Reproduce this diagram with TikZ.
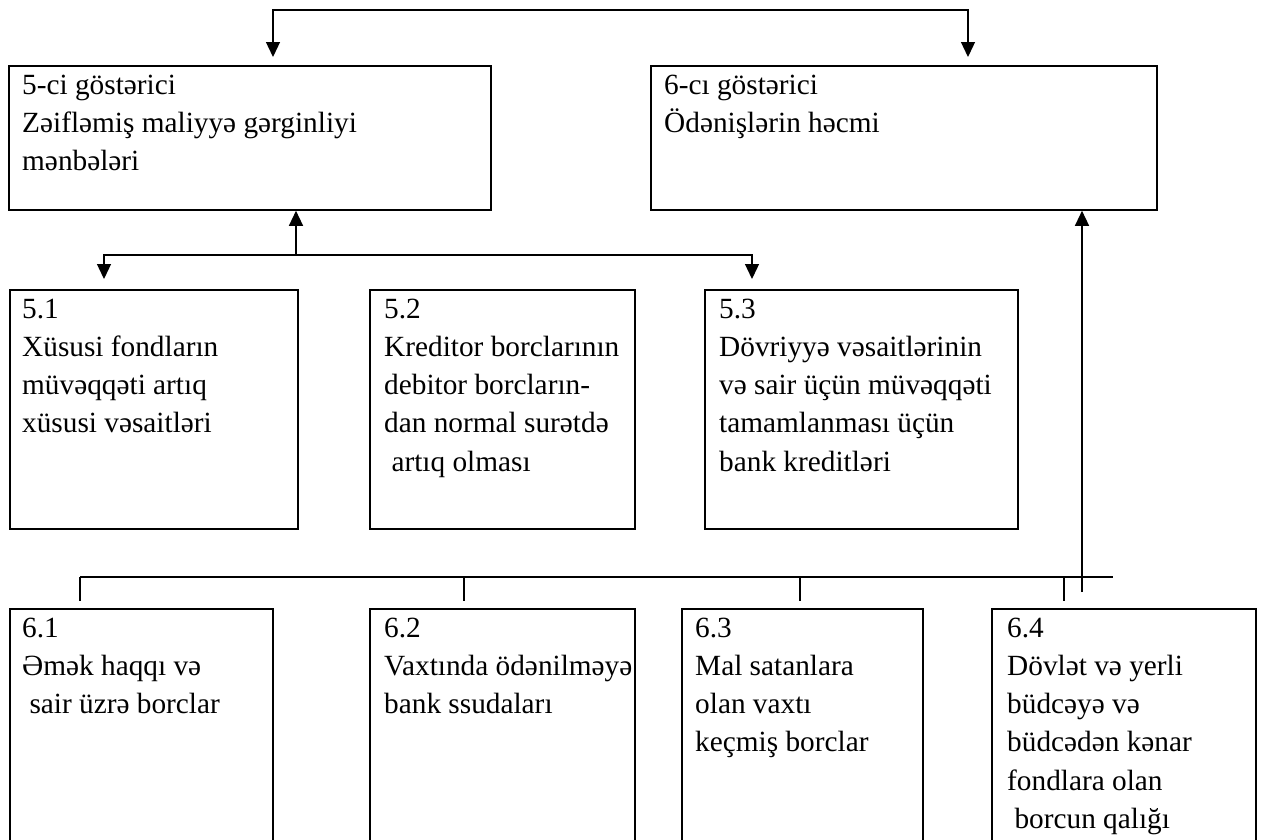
\documentclass[tikz,border=0pt]{standalone}
\usepackage{fontspec}
\setmainfont{Liberation Serif}
\usetikzlibrary{arrows.meta,calc}
% stacked lines whose baseline is the baseline of the first line
\newcommand\linestack[1]{\begin{tabular}[t]{@{}l@{}}#1\end{tabular}}
\tikzset{
  box/.style={draw, line width=1.8pt, inner sep=0pt, anchor=north west},
  txt/.style={inner sep=0pt, anchor=base west,
              font=\fontsize{29.3}{38.3}\selectfont},
  wire/.style={line width=1.3pt},
}
\begin{document}
\begin{tikzpicture}[x=1pt,y=-1pt,>={Triangle[length=15pt,width=14pt]}]
\useasboundingbox (0,0) rectangle (1261,839);
\clip (0,0) rectangle (1261,839);

% indicator boxes
\node[box, minimum width=482pt, minimum height=144pt] (b5) at (8,65) {};
\node[box, minimum width=506pt, minimum height=144pt] (b6) at (650,65) {};
% sources of indicator 5
\node[box, minimum width=288pt, minimum height=239pt] (b51) at (9,289) {};
\node[box, minimum width=265pt, minimum height=239pt] (b52) at (369,289) {};
\node[box, minimum width=313pt, minimum height=239pt] (b53) at (704,289) {};
% components of indicator 6 (open at the lower edge)
\node[box, minimum width=263pt, minimum height=250pt] (b61) at (9,608) {};
\node[box, minimum width=265pt, minimum height=250pt] (b62) at (369,608) {};
\node[box, minimum width=241pt, minimum height=250pt] (b63) at (681,608) {};
\node[box, minimum width=264pt, minimum height=250pt] (b64) at (991,608) {};

% labels
\node[txt] (t5) at ($(b5.north west)+(14,29)$)
  {\linestack{5-ci göstərici\\Zəifləmiş maliyyə gərginliyi\\mənbələri}};
\node[txt] (t6) at ($(b6.north west)+(14,29)$)
  {\linestack{6-cı göstərici\\Ödənişlərin həcmi}};
\node[txt] (t51) at ($(b51.north west)+(13,29)$)
  {\linestack{5.1\\Xüsusi fondların\\müvəqqəti artıq\\xüsusi vəsaitləri}};
\node[txt] (t52) at ($(b52.north west)+(15,29)$)
  {\linestack{5.2\\Kreditor borclarının\\debitor borcların-\\dan normal surətdə\\\hspace*{.25em}artıq olması}};
\node[txt] (t53) at ($(b53.north west)+(15,29)$)
  {\linestack{5.3\\Dövriyyə vəsaitlərinin\\və sair üçün müvəqqəti\\tamamlanması üçün\\bank kreditləri}};
\node[txt] (t61) at ($(b61.north west)+(13,29)$)
  {\linestack{6.1\\Əmək haqqı və\\\hspace*{.25em}sair üzrə borclar}};
\node[txt] (t62) at ($(b62.north west)+(15,29)$)
  {\linestack{6.2\\Vaxtında ödənilməyə\\bank ssudaları}};
\node[txt] (t63) at ($(b63.north west)+(14,29)$)
  {\linestack{6.3\\Mal satanlara\\olan vaxtı\\keçmiş borclar}};
\node[txt] (t64) at ($(b64.north west)+(16,29)$)
  {\linestack{6.4\\Dövlət və yerli\\büdcəyə və\\büdcədən kənar\\fondlara olan\\\hspace*{.25em}borcun qalığı}};

% link between the two indicators
\coordinate (tl) at (273,10);
\coordinate (tr) at (968,10);
\draw[wire,<->,shorten <=8pt,shorten >=8pt]
  (tl |- b5.north) -- (tl) -- (tr) -- (tr |- b6.north);

% indicator 5 and its sources
\coordinate (hub) at (296,255);
\coordinate (ml) at (104,255);
\coordinate (mr) at (752,255);
\draw[wire,->] (hub) -- (hub |- b5.south);
\draw[wire,<->,shorten <=10pt,shorten >=10pt]
  (ml |- b51.north) -- (ml) -- (mr) -- (mr |- b53.north);

% indicator 6 and its components
\coordinate (bl) at (80,577);
\coordinate (br) at (1113,577);
\coordinate (k2) at (464,577);
\coordinate (k3) at (800,577);
\coordinate (k4) at (1064,577);
\coordinate (up) at (1082,592);
\draw[wire] (bl) -- (br);
\draw[wire,shorten >=7pt] (bl) -- (bl |- b61.north);
\draw[wire,shorten >=7pt] (k2) -- (k2 |- b62.north);
\draw[wire,shorten >=7pt] (k3) -- (k3 |- b63.north);
\draw[wire,shorten >=7pt] (k4) -- (k4 |- b64.north);
\draw[wire,->] (up) -- (up |- b6.south);
\end{tikzpicture}
\end{document}
